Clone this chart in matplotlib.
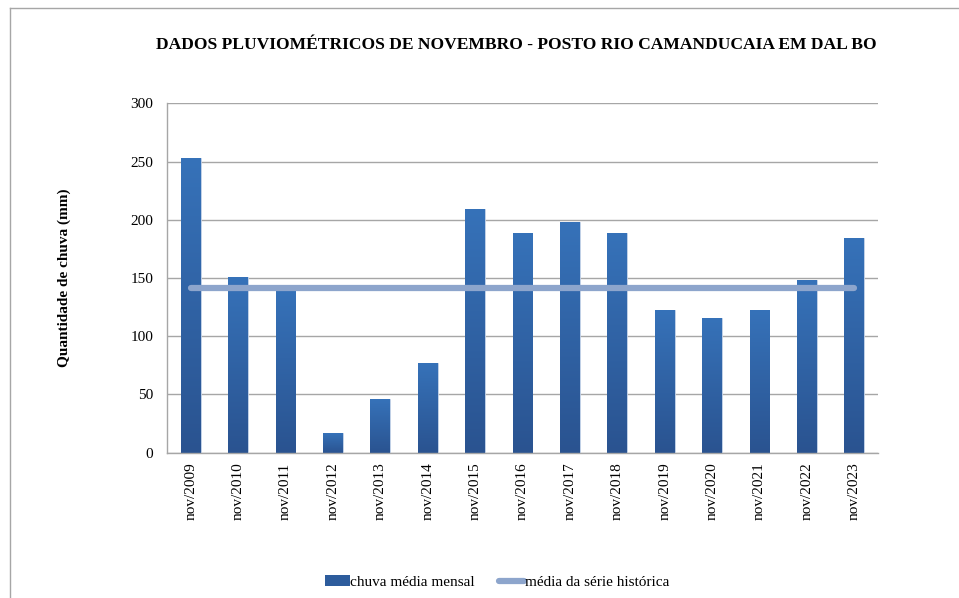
import numpy as np
import matplotlib.pyplot as plt
from matplotlib.lines import Line2D
from matplotlib.patches import Patch
from matplotlib.colors import LinearSegmentedColormap

plt.rcParams['font.family'] = ['Liberation Serif', 'DejaVu Serif']

anos = ['nov/2009', 'nov/2010', 'nov/2011', 'nov/2012', 'nov/2013', 'nov/2014',
        'nov/2015', 'nov/2016', 'nov/2017', 'nov/2018', 'nov/2019', 'nov/2020',
        'nov/2021', 'nov/2022', 'nov/2023']
chuva = [253, 151, 139.5, 17, 46, 77, 209, 188.5, 198, 188.5, 122.5, 115.5, 122.5, 148, 184]
media = [141] * len(anos)

fig = plt.figure(figsize=(9.59, 5.98), dpi=100)
ax = fig.add_axes([167 / 959, 1 - 452.7 / 598, 711 / 959, 349.4 / 598])

x = np.arange(len(anos))
bars = ax.bar(x, chuva, width=0.42, color='#3068AA', edgecolor='#C9D6EA',
              linewidth=0.6, zorder=2)

# gradiente vertical em cada barra
grad = np.linspace(0, 1, 256).reshape(-1, 1)
cmap = LinearSegmentedColormap.from_list('g', ['#2A5390', '#3672B9'])
for b in bars:
    x0, w, h = b.get_x(), b.get_width(), b.get_height()
    im = ax.imshow(grad, extent=[x0, x0 + w, 0, h], origin='lower', aspect='auto',
                   cmap=cmap, zorder=2.1)
    im.set_clip_path(b)

ax.plot(x, media, color='#8DA5CC', linewidth=4.5, solid_capstyle='round', zorder=3)

ax.set_xlim(-0.5, len(anos) - 0.5)
ax.set_ylim(0, 300)
ax.set_yticks(range(0, 301, 50))
ax.set_xticks(x)
ax.set_xticklabels(anos, rotation=90, fontsize=11)
ax.tick_params(axis='y', labelsize=11, length=0, pad=10)
ax.tick_params(axis='x', length=0, pad=7)
ax.grid(axis='y', color='#A6A6A6', linewidth=1, zorder=0)
for s in ['top', 'right']:
    ax.spines[s].set_visible(False)
for s in ['left', 'bottom']:
    ax.spines[s].set_color('#A6A6A6')
    ax.spines[s].set_linewidth(1)

ax.set_ylabel('Quantidade de chuva (mm)', fontsize=11, fontweight='bold', labelpad=43)
fig.text(516 / 959, 1 - 45 / 598, 'DADOS PLUVIOMÉTRICOS DE NOVEMBRO - POSTO RIO CAMANDUCAIA EM DAL BO',
         ha='center', va='center', fontsize=12.6, fontweight='bold')

handles = [Patch(facecolor='#2D5C9C', edgecolor='none'),
           Line2D([0], [0], color='#8DA5CC', linewidth=4.5, solid_capstyle='round')]
fig.legend(handles, ['chuva média mensal', 'média da série histórica'],
           loc='center', bbox_to_anchor=(497 / 959, 1 - 582 / 598), ncol=2,
           frameon=False, fontsize=11, handlelength=1.6, handletextpad=0.05,
           columnspacing=1.6)

# moldura do gráfico
fig.add_artist(Line2D([10 / 959, 1], [1 - 8 / 598, 1 - 8 / 598], color='#A6A6A6', linewidth=1))
fig.add_artist(Line2D([10 / 959, 10 / 959], [0, 1 - 8 / 598], color='#A6A6A6', linewidth=1))

fig.savefig('out.png', dpi=100)
